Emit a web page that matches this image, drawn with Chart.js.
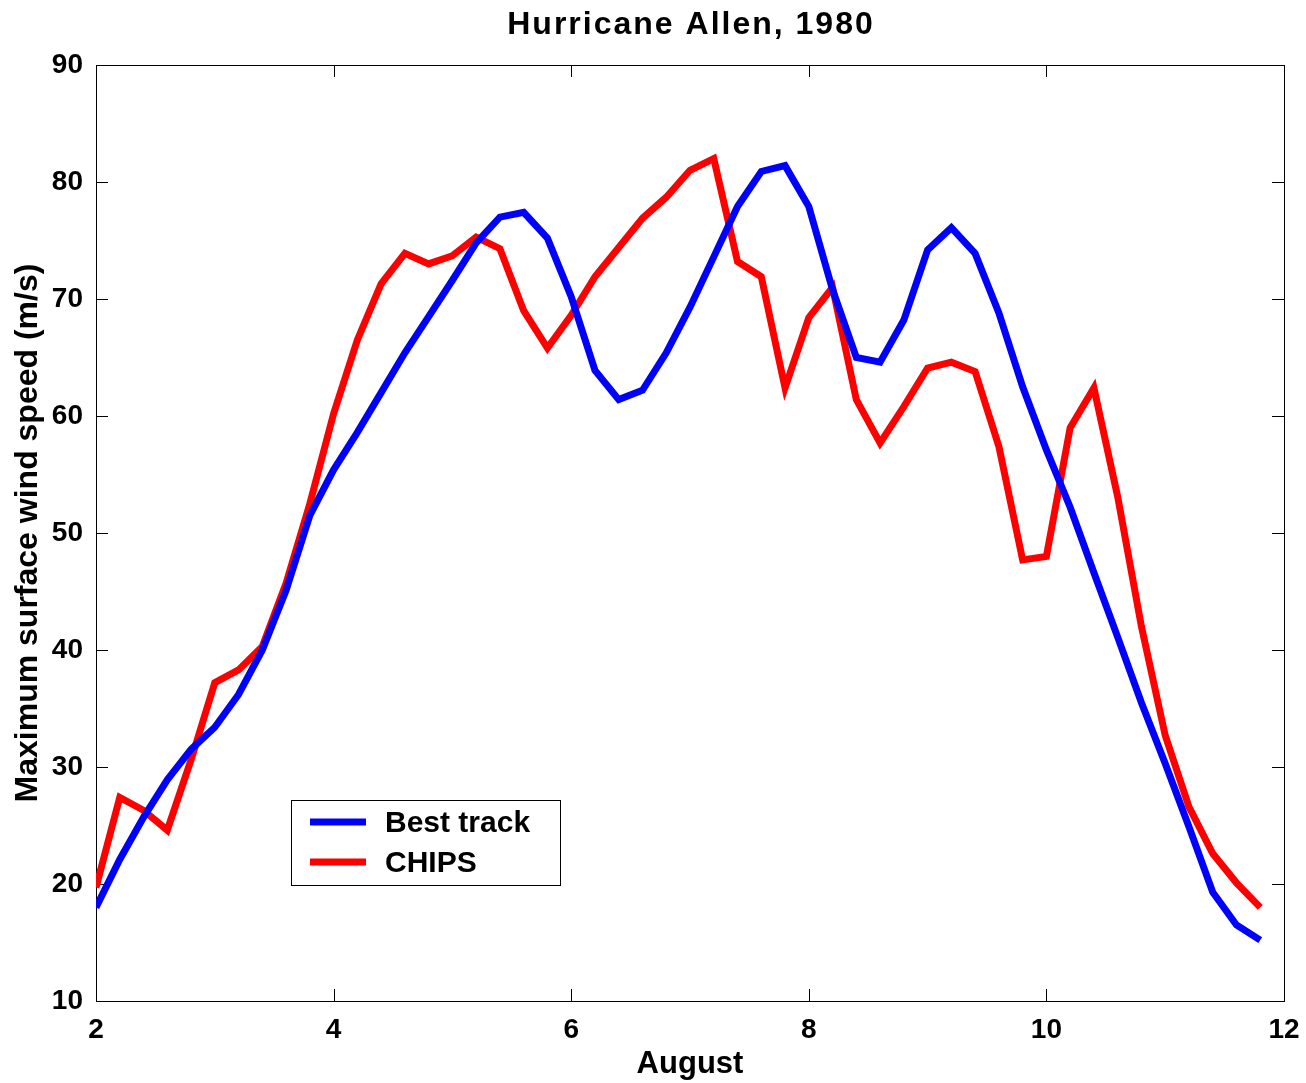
<!doctype html>
<html lang="en">
  <head>
    <meta charset="UTF-8" />
    <title>Hurricane Allen, 1980</title>
    <script src="https://cdn.jsdelivr.net/npm/chart.js"></script>
    <style>
      html, body { margin: 0; padding: 0; background: #fff; }
      .chart-container { position: relative; width: 1306px; height: 1083px; }
    </style>
  </head>
  <body>
    <div class="chart-container">
      <canvas id="windChart" width="1306" height="1083"></canvas>
    </div>

    <script>
      // day of August (6-hourly)
      const days = [
        2.0, 2.2, 2.4, 2.6, 2.8, 3.0, 3.2, 3.4, 3.6, 3.8,
        4.0, 4.2, 4.4, 4.6, 4.8, 5.0, 5.2, 5.4, 5.6, 5.8,
        6.0, 6.2, 6.4, 6.6, 6.8, 7.0, 7.2, 7.4, 7.6, 7.8,
        8.0, 8.2, 8.4, 8.6, 8.8, 9.0, 9.2, 9.4, 9.6, 9.8,
        10.0, 10.2, 10.4, 10.6, 10.8, 11.0, 11.2, 11.4, 11.6, 11.8
      ]
      const bestTrack = [
        18, 22.1, 25.7, 28.9, 31.5, 33.4, 36.2, 40, 45.1, 51.5,
        55.4, 58.6, 62, 65.4, 68.5, 71.6, 74.8, 77, 77.4, 75.2,
        70.2, 63.9, 61.4, 62.2, 65.4, 69.3, 73.6, 77.9, 80.9, 81.4,
        77.9, 70.8, 65, 64.6, 68.2, 74.2, 76.1, 73.9, 68.8, 62.5,
        57.1, 52.2, 46.6, 41.1, 35.5, 30.3, 24.9, 19.3, 16.5, 15.2
      ]
      const chips = [
        19.7, 27.4, 26.3, 24.6, 30.6, 37.2, 38.3, 40.3, 45.7, 52.5,
        60.2, 66.5, 71.3, 73.9, 73, 73.7, 75.3, 74.3, 69, 65.8,
        68.6, 71.9, 74.4, 76.9, 78.7, 81, 82, 73.2, 71.9, 62.4,
        68.4, 71, 61.4, 57.7, 60.8, 64.1, 64.6, 63.8, 57.4, 47.7,
        48, 59, 62.4, 53.1, 42, 32.7, 26.6, 22.6, 20.1, 18
      ]
      const xTicks = [2, 4, 6, 8, 10, 12]
      const yTicks = [10, 20, 30, 40, 50, 60, 70, 80, 90]
      const chartTitle = 'Hurricane Allen, 1980'

      const toPoints = (vals) => vals.map((v, i) => ({ x: days[i], y: v }))
      const sans = "'Liberation Sans', Arial, Helvetica, sans-serif"

      // matlab style box with inward ticks on all four sides
      const boxPlugin = {
        id: 'box',
        beforeDatasetsDraw(chart) {
          const { ctx, chartArea: a, scales } = chart
          const len = 12
          ctx.save()
          ctx.strokeStyle = '#000'
          ctx.lineWidth = 1
          ctx.strokeRect(a.left + 0.5, a.top + 0.5, a.right - a.left, a.bottom - a.top)
          ctx.beginPath()
          xTicks.forEach((t) => {
            const px = Math.round(scales.x.getPixelForValue(t)) + 0.5
            ctx.moveTo(px, a.bottom); ctx.lineTo(px, a.bottom - len)
            ctx.moveTo(px, a.top); ctx.lineTo(px, a.top + len)
          })
          yTicks.forEach((t) => {
            const py = Math.round(scales.y.getPixelForValue(t)) + 0.5
            ctx.moveTo(a.left, py); ctx.lineTo(a.left + len, py)
            ctx.moveTo(a.right, py); ctx.lineTo(a.right - len, py)
          })
          ctx.stroke()
          // title centred over the axes
          ctx.fillStyle = '#000'
          ctx.font = 'bold 32px ' + sans
          ctx.letterSpacing = '2px'
          ctx.textAlign = 'center'
          ctx.textBaseline = 'middle'
          ctx.fillText(chartTitle, (a.left + a.right) / 2 + 1, 25)
          ctx.restore()
        }
      }

      // legend box in the lower left of the plot
      const legendPlugin = {
        id: 'boxLegend',
        afterDatasetsDraw(chart) {
          const ctx = chart.ctx
          const bx = 291, by = 800, bw = 269, bh = 85
          ctx.save()
          ctx.fillStyle = '#fff'
          ctx.fillRect(bx, by, bw, bh)
          ctx.strokeStyle = '#000'
          ctx.lineWidth = 1
          ctx.strokeRect(bx + 0.5, by + 0.5, bw, bh)
          ctx.font = 'bold 30px ' + sans
          ctx.textBaseline = 'middle'
          ctx.fillStyle = '#000'
          chart.data.datasets.forEach((ds, i) => {
            const y = by + 22 + i * 40
            ctx.strokeStyle = ds.borderColor
            ctx.lineWidth = 7
            ctx.beginPath()
            ctx.moveTo(310, y)
            ctx.lineTo(366, y)
            ctx.stroke()
            ctx.fillText(ds.label, 385, y + 2)
          })
          ctx.restore()
        }
      }

      const ctx = document.getElementById('windChart').getContext('2d')
      new Chart(ctx, {
        type: 'line',
        data: {
          datasets: [
            {
              label: 'Best track',
              data: toPoints(bestTrack),
              borderColor: '#0000ff',
              borderWidth: 7,
              pointRadius: 0,
              tension: 0
            },
            {
              label: 'CHIPS',
              data: toPoints(chips),
              borderColor: '#ff0000',
              borderWidth: 7,
              pointRadius: 0,
              tension: 0
            }
          ]
        },
        options: {
          responsive: false,
          animation: false,
          layout: { padding: { top: 65, right: 22, bottom: 0, left: 0 } },
          plugins: {
            legend: { display: false },
            tooltip: { enabled: false },
            title: { display: false }
          },
          scales: {
            x: {
              type: 'linear',
              min: 2,
              max: 12,
              afterBuildTicks: (s) => { s.ticks = xTicks.map((v) => ({ value: v })) },
              afterFit: (s) => {
                s.height = 82
                s.paddingLeft = 0
                s.paddingRight = 0
              },
              grid: { display: false, drawTicks: false },
              border: { display: false },
              ticks: { color: '#000', padding: 12, font: { family: sans, size: 28, weight: 'bold' } },
              title: {
                display: true,
                text: 'August',
                color: '#000',
                font: { family: sans, size: 31, weight: 'bold' },
                padding: { top: 0, bottom: 0 }
              }
            },
            y: {
              min: 10,
              max: 90,
              afterBuildTicks: (s) => { s.ticks = yTicks.map((v) => ({ value: v })) },
              afterFit: (s) => { s.width = 96 },
              grid: { display: false, drawTicks: false },
              border: { display: false },
              ticks: { color: '#000', padding: 13, font: { family: sans, size: 28, weight: 'bold' } },
              title: {
                display: true,
                text: 'Maximum surface wind speed (m/s)',
                color: '#000',
                font: { family: sans, size: 32, weight: 'bold' },
                padding: { top: 9, bottom: 0 }
              }
            }
          }
        },
        plugins: [boxPlugin, legendPlugin]
      })
    </script>
  </body>
</html>
